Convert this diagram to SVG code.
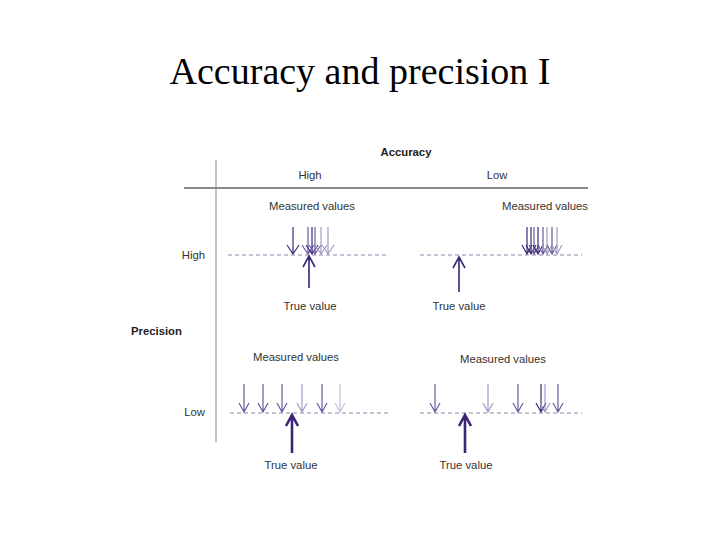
<svg xmlns="http://www.w3.org/2000/svg" width="720" height="540" viewBox="0 0 720 540">
<style>
.title{font-family:"Liberation Serif","Times New Roman",serif;font-size:38px;fill:#000}
.lbl{font-family:"Liberation Sans",Arial,sans-serif;font-size:11.3px;fill:#333}
.bold{font-weight:bold;fill:#222}
.axis{stroke:#888;fill:none}
.dash{stroke:#8a86a8;stroke-width:1;stroke-dasharray:4 3;fill:none}
.m{fill:none;stroke-width:1.2}
.d{stroke:#3f2a7c}
.md{stroke:#6a5a9e}
.lt{stroke:#a59cc6}
.vl{stroke:#c8c2dc}
.tv{fill:none;stroke:#3b2675;stroke-width:1.6}
.tvb{fill:none;stroke:#3b2675;stroke-width:2.6}
</style>
<rect width="720" height="540" fill="#fff"/>
<text class="title" x="360" y="84" text-anchor="middle">Accuracy and precision I</text>

<g id="axes">
<line class="axis" x1="184" y1="188" x2="588" y2="188" stroke-width="2"/>
<line class="axis" x1="216" y1="160" x2="216" y2="442" stroke-width="1"/>
<text class="lbl bold" x="406" y="156" text-anchor="middle">Accuracy</text>
<text class="lbl" x="310" y="179" text-anchor="middle">High</text>
<text class="lbl" x="497" y="179" text-anchor="middle">Low</text>
<text class="lbl" x="205" y="259" text-anchor="end">High</text>
<text class="lbl bold" x="131" y="335">Precision</text>
<text class="lbl" x="205" y="416" text-anchor="end">Low</text>
</g>

<g id="panel-high-high">
<text class="lbl" x="312" y="210" text-anchor="middle">Measured values</text>
<line class="dash" x1="228" y1="255" x2="388" y2="255"/>
<path class="m d" d="M293 227V254M287 245L293 254L299 245"/>
<path class="m md" d="M308 227V254M302 245L308 254L314 245"/>
<path class="m d" d="M312 227V254M306 245L312 254L318 245"/>
<path class="m md" d="M315 227V254M309 245L315 254L321 245"/>
<path class="m lt" d="M321 227V254M315 245L321 254L327 245"/>
<path class="m lt" d="M328 227V254M322 245L328 254L334 245"/>
<path class="tv" d="M309 288V256M303 267L309 256L315 267"/>
<text class="lbl" x="310" y="310" text-anchor="middle">True value</text>
</g>

<g id="panel-low-high">
<text class="lbl" x="545" y="210" text-anchor="middle">Measured values</text>
<line class="dash" x1="420" y1="255" x2="582" y2="255"/>
<path class="m d" d="M527 227V254M522 245L527 254L532 245"/>
<path class="m d" d="M531 227V254M526 245L531 254L536 245"/>
<path class="m md" d="M534 227V254M529 245L534 254L539 245"/>
<path class="m d" d="M538 227V254M533 245L538 254L543 245"/>
<path class="m md" d="M543 227V254M538 245L543 254L548 245"/>
<path class="m lt" d="M547 227V254M542 245L547 254L552 245"/>
<path class="m md" d="M552 227V254M547 245L552 254L557 245"/>
<path class="m lt" d="M557 227V254M552 245L557 254L562 245"/>
<path class="tv" d="M459 292V257M453 268L459 257L465 268"/>
<text class="lbl" x="459" y="310" text-anchor="middle">True value</text>
</g>

<g id="panel-high-low">
<text class="lbl" x="296" y="361" text-anchor="middle">Measured values</text>
<line class="dash" x1="230" y1="413" x2="390" y2="413"/>
<path class="m md" d="M244 384V412M239 403L244 412L249 403"/>
<path class="m md" d="M263 384V412M258 403L263 412L268 403"/>
<path class="m md" d="M282 384V412M277 403L282 412L287 403"/>
<path class="m lt" d="M302 384V412M297 403L302 412L307 403"/>
<path class="m md" d="M322 384V412M317 403L322 412L327 403"/>
<path class="m vl" d="M340 384V412M335 403L340 412L345 403"/>
<path class="tvb" d="M292 453V415M286 426L292 415L298 426"/>
<text class="lbl" x="291" y="469" text-anchor="middle">True value</text>
</g>

<g id="panel-low-low">
<text class="lbl" x="503" y="363" text-anchor="middle">Measured values</text>
<line class="dash" x1="420" y1="413" x2="582" y2="413"/>
<path class="m md" d="M435 384V412M430 403L435 412L440 403"/>
<path class="m lt" d="M488 384V412M483 403L488 412L493 403"/>
<path class="m md" d="M518 384V412M513 403L518 412L523 403"/>
<path class="m d" d="M541 384V412M536 403L541 412L546 403"/>
<path class="m lt" d="M545 384V412M540 403L545 412L550 403"/>
<path class="m md" d="M558 384V412M553 403L558 412L563 403"/>
<path class="tvb" d="M465 453V415M459 426L465 415L471 426"/>
<text class="lbl" x="466" y="469" text-anchor="middle">True value</text>
</g>
</svg>
